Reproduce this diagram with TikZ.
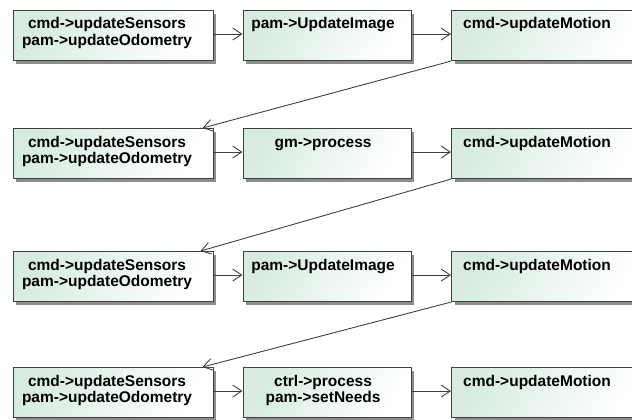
\documentclass[tikz,border=0pt]{standalone}
\usepackage{fontspec}
\setmainfont{Liberation Sans}
\usetikzlibrary{arrows.meta,shadows}
\definecolor{edgegray}{HTML}{404040}
\definecolor{paleteal}{HTML}{D6ECE0}
\tikzset{
  flowbox/.style={draw=edgegray, line width=1.1pt, rectangle, anchor=north west,
    minimum height=50pt, inner sep=0pt,
    left color=paleteal, right color=white, shading angle=60,
    drop shadow={shadow xshift=3pt, shadow yshift=-3pt, fill=black!45, opacity=1}},
  boxtext/.style={font=\bfseries\fontsize{15.5}{16.5}\selectfont, text width=200pt,
    align=center, inner sep=0pt, anchor=base},
  sidetext/.style={font=\bfseries\fontsize{15.5}{16.5}\selectfont, inner sep=0pt, anchor=base west},
  flow/.style={draw=edgegray, line width=0.9pt, -{Straight Barb[length=9pt,width=12pt]}}
}
\begin{document}
\begin{tikzpicture}[x=1pt,y=-1pt]
\useasboundingbox (0,0) rectangle (632,420);

% row 1
\node[flowbox, minimum width=200pt] (a1) at (12.5,10) {};
\node[flowbox, minimum width=168pt] (b1) at (242.5,10) {};
\node[flowbox, minimum width=195pt] (c1) at (451,10) {};
% row 2
\node[flowbox, minimum width=200pt] (a2) at (12.5,128) {};
\node[flowbox, minimum width=168pt] (b2) at (242.5,128) {};
\node[flowbox, minimum width=195pt] (c2) at (451,128) {};
% row 3
\node[flowbox, minimum width=200pt] (a3) at (12.5,251) {};
\node[flowbox, minimum width=168pt] (b3) at (242.5,251) {};
\node[flowbox, minimum width=195pt] (c3) at (451,251) {};
% row 4
\node[flowbox, minimum width=200pt] (a4) at (12.5,367) {};
\node[flowbox, minimum width=168pt] (b4) at (242.5,367) {};
\node[flowbox, minimum width=195pt] (c4) at (451,367) {};

% labels
\node[boxtext] (a1t) at ([xshift=-6pt,yshift=-19pt]a1.north) {cmd->updateSensors\\pam->updateOdometry};
\node[boxtext] (b1t) at ([xshift=-4pt,yshift=-19pt]b1.north) {pam->UpdateImage};
\node[sidetext] (c1t) at ([xshift=12pt,yshift=-19pt]c1.north west) {cmd->updateMotion};

\node[boxtext] (a2t) at ([xshift=-6pt,yshift=-19pt]a2.north) {cmd->updateSensors\\pam->updateOdometry};
\node[boxtext] (b2t) at ([xshift=-4pt,yshift=-19pt]b2.north) {gm->process};
\node[sidetext] (c2t) at ([xshift=12pt,yshift=-19pt]c2.north west) {cmd->updateMotion};

\node[boxtext] (a3t) at ([xshift=-6pt,yshift=-19pt]a3.north) {cmd->updateSensors\\pam->updateOdometry};
\node[boxtext] (b3t) at ([xshift=-4pt,yshift=-19pt]b3.north) {pam->UpdateImage};
\node[sidetext] (c3t) at ([xshift=12pt,yshift=-19pt]c3.north west) {cmd->updateMotion};

\node[boxtext] (a4t) at ([xshift=-6pt,yshift=-19pt]a4.north) {cmd->updateSensors\\pam->updateOdometry};
\node[boxtext] (b4t) at ([xshift=-4pt,yshift=-19pt]b4.north) {ctrl->process\\pam->setNeeds};
\node[sidetext] (c4t) at ([xshift=12pt,yshift=-19pt]c4.north west) {cmd->updateMotion};

% connectors within each row
\foreach \r in {1,2,3,4}{
  \draw[flow] ([yshift=1.5pt]a\r.east) -- ([yshift=1.5pt]b\r.west);
  \draw[flow] ([yshift=1.5pt]b\r.east) -- ([yshift=1.5pt]c\r.west);
}
% connectors from row to row
\draw[flow] (c1.south west) -- ([xshift=-11pt]a2.north east);
\draw[flow] (c2.south west) -- ([xshift=-13pt]a3.north east);
\draw[flow] (c3.south west) -- ([xshift=-11pt]a4.north east);
\end{tikzpicture}
\end{document}
